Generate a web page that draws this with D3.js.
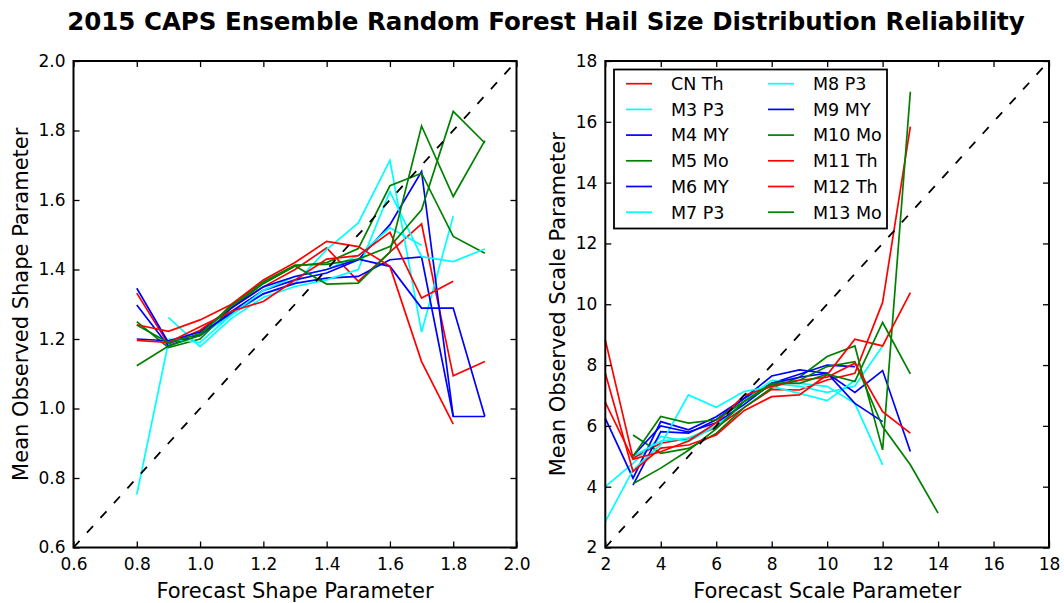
<!DOCTYPE html>
<html>
<head>
<meta charset="utf-8">
<script src="https://cdn.jsdelivr.net/npm/d3@7"></script>
<style>
  html, body { margin: 0; padding: 0; background: #fff; }
  svg { display: block; font-family: "DejaVu Sans", sans-serif; }
</style>
</head>
<body>
<svg id="chart" width="1064" height="603"></svg>
<script>
// Ensemble members, in legend order
const members = ["CN Th", "M3 P3", "M4 MY", "M5 Mo", "M6 MY", "M7 P3",
                 "M8 P3", "M9 MY", "M10 Mo", "M11 Th", "M12 Th", "M13 Mo"];
const memberColors = ["#ff0000", "#00ffff", "#0000ff", "#008000", "#0000ff", "#00ffff",
                      "#00ffff", "#0000ff", "#008000", "#ff0000", "#ff0000", "#008000"];

// Forecast shape parameter bins (left panel)
const shapeBins = [0.8, 0.9, 1.0, 1.1, 1.2, 1.3, 1.4, 1.5, 1.6, 1.7, 1.8, 1.9];
// Mean observed shape parameter per member
const shapeCNTh  = [1.332, 1.185, 1.225, 1.29, 1.35, 1.40, 1.462, 1.366, 1.45, 1.531, 1.094, 1.135];
const shapeM3P3  = [0.752, 1.19, 1.21, 1.27, 1.33, 1.36, 1.457, 1.534, 1.714, 1.22, 1.553, null];
const shapeM4MY  = [1.346, 1.19, 1.21, 1.28, 1.34, 1.37, 1.39, 1.428, 1.529, 1.682, 0.977, 0.977];
const shapeM5Mo  = [1.250, 1.175, 1.20, 1.29, 1.36, 1.41, 1.42, 1.46, 1.641, 1.677, 1.495, 1.447];
const shapeM6MY  = [1.298, 1.18, 1.215, 1.275, 1.33, 1.36, 1.375, 1.38, 1.428, 1.436, 0.977, null];
const shapeM7P3  = [null, 1.262, 1.178, 1.26, 1.32, 1.351, 1.37, 1.40, 1.624, 1.437, 1.423, 1.459];
const shapeM8P3  = [null, 1.20, 1.19, 1.27, 1.34, 1.38, 1.40, 1.44, 1.52, 1.47, null, null];
const shapeM9MY  = [1.200, 1.195, 1.22, 1.29, 1.35, 1.38, 1.40, 1.43, 1.409, 1.289, 1.289, 0.977];
const shapeM10Mo = [1.123, 1.18, 1.21, 1.30, 1.365, 1.413, 1.415, 1.43, 1.466, 1.572, 1.855, 1.764];
const shapeM11Th = [1.241, 1.222, 1.255, 1.30, 1.37, 1.42, 1.481, 1.466, 1.409, 1.135, 0.955, null];
const shapeM12Th = [1.196, 1.19, 1.235, 1.28, 1.308, 1.37, 1.43, 1.44, 1.507, 1.318, 1.366, null];
const shapeM13Mo = [1.24, 1.19, 1.215, 1.295, 1.36, 1.41, 1.358, 1.361, 1.45, 1.813, 1.61, 1.771];

// Forecast scale parameter bins (right panel)
const scaleBins = [2, 3, 4, 5, 6, 7, 8, 9, 10, 11, 12, 13, 14];
// Mean observed scale parameter per member
const scaleCNTh  = [8.83, 4.94, 5.43, 5.59, 5.95, 6.6, 7.2, 7.18, 7.51, 7.73, 10.06, 15.84, null];
const scaleM3P3  = [4.0, 4.77, 5.65, 5.48, 6.0, 6.7, 7.4, 7.3, 7.1, 7.31, 8.63, null, null];
const scaleM4MY  = [6.25, 4.28, 6.14, 5.87, 6.3, 6.9, 7.64, 7.84, 7.73, 7.1, 7.82, 5.16, null];
const scaleM5Mo  = [null, 5.70, 5.10, 5.26, 5.75, 6.6, 7.25, 7.6, 8.28, 8.63, 5.21, 16.99, null];
const scaleM6MY  = [null, 4.05, 5.81, 5.76, 6.2, 6.9, 7.4, 7.7, 8.0, 7.95, null, null, null];
const scaleM7P3  = [2.85, 4.55, 5.38, 7.02, 6.61, 7.13, 7.3, 7.07, 6.83, 7.5, null, null, null];
const scaleM8P3  = [null, 5.0, 5.5, 5.6, 6.0, 6.8, 7.5, 7.4, 7.3, 6.74, 4.72, null, null];
const scaleM9MY  = [null, 5.01, 6.0, 5.8, 6.1, 6.7, 7.4, 7.6, 7.73, 6.74, 6.14, null, null];
const scaleM10Mo = [null, 4.10, 4.61, 5.2, 5.9, 6.8, 7.35, 7.5, 7.95, 8.11, 5.98, 4.72, 3.13];
const scaleM11Th = [7.73, 4.50, 5.27, 5.37, 5.70, 6.5, 6.96, 7.02, 7.68, 8.85, 8.63, 10.38, null];
const scaleM12Th = [6.77, 4.90, 5.15, 5.5, 6.1, 7.0, 7.3, 7.5, 7.6, 8.06, 6.47, 5.76, null];
const scaleM13Mo = [null, 5.0, 6.31, 6.09, 6.20, 6.8, 7.4, 7.4, 7.7, 7.46, 9.40, 7.71, null];

// Axis ticks
const shapeTicks = [0.6, 0.8, 1.0, 1.2, 1.4, 1.6, 1.8, 2.0];
const scaleTicks = [2, 4, 6, 8, 10, 12, 14, 16, 18];

const shapeSeries = [shapeCNTh, shapeM3P3, shapeM4MY, shapeM5Mo, shapeM6MY, shapeM7P3,
                     shapeM8P3, shapeM9MY, shapeM10Mo, shapeM11Th, shapeM12Th, shapeM13Mo];
const scaleSeries = [scaleCNTh, scaleM3P3, scaleM4MY, scaleM5Mo, scaleM6MY, scaleM7P3,
                     scaleM8P3, scaleM9MY, scaleM10Mo, scaleM11Th, scaleM12Th, scaleM13Mo];

const svg = d3.select("#chart");

const plotTop = 61, plotBottom = 547.5;

function drawPanel(opts) {
  const { x, y, bins, series, ticks, fmt, xLabel, yLabel, yLabelX } = opts;
  const g = svg.append("g");
  const [x0, x1] = x.range();
  const [y0, y1] = y.range();

  // data lines
  series.forEach((vals, i) => {
    const pts = bins.map((b, j) => [b, vals[j]]);
    const line = d3.line()
      .defined(d => d[1] != null)
      .x(d => x(d[0]))
      .y(d => y(d[1]));
    g.append("path")
      .datum(pts)
      .attr("d", line)
      .attr("fill", "none")
      .attr("stroke", memberColors[i])
      .attr("stroke-width", 1.7)
      .attr("stroke-linejoin", "miter");
  });

  // one-to-one reference line
  const dom = x.domain();
  g.append("path")
    .datum([dom[0], dom[1]])
    .attr("d", d3.line().x(d => x(d)).y(d => y(d)))
    .attr("fill", "none")
    .attr("stroke", "#000")
    .attr("stroke-width", 1.8)
    .attr("stroke-dasharray", "9,11");

  // axes with inward ticks on all four sides
  const tickStyle = sel => {
    sel.select(".domain").remove();
    sel.selectAll(".tick line").attr("stroke", "#000").attr("stroke-width", 1.3);
    sel.selectAll(".tick text").attr("fill", "#000").style("font-size", "17px")
      .style("font-family", "DejaVu Sans, sans-serif");
  };
  g.append("g").attr("transform", `translate(0,${y0})`)
    .call(d3.axisBottom(x).tickValues(ticks).tickFormat(fmt).tickSizeInner(-6).tickSizeOuter(0).tickPadding(10))
    .call(tickStyle);
  g.append("g").attr("transform", `translate(0,${y1})`)
    .call(d3.axisTop(x).tickValues(ticks).tickFormat("").tickSizeInner(-6).tickSizeOuter(0))
    .call(tickStyle);
  g.append("g").attr("transform", `translate(${x0},0)`)
    .call(d3.axisLeft(y).tickValues(ticks).tickFormat(fmt).tickSizeInner(-6).tickSizeOuter(0).tickPadding(8))
    .call(tickStyle);
  g.append("g").attr("transform", `translate(${x1},0)`)
    .call(d3.axisRight(y).tickValues(ticks).tickFormat("").tickSizeInner(-6).tickSizeOuter(0))
    .call(tickStyle);

  // frame
  g.append("rect")
    .attr("x", x0).attr("y", y1)
    .attr("width", x1 - x0).attr("height", y0 - y1)
    .attr("fill", "none").attr("stroke", "#000").attr("stroke-width", 2);

  // axis titles
  g.append("text")
    .attr("x", (x0 + x1) / 2).attr("y", 598)
    .attr("text-anchor", "middle")
    .style("font-size", "21px")
    .text(xLabel);
  g.append("text")
    .attr("transform", `translate(${yLabelX},${(y0 + y1) / 2}) rotate(-90)`)
    .attr("dy", "0.36em")
    .attr("text-anchor", "middle")
    .style("font-size", "21px")
    .text(yLabel);
  return g;
}

const shapeX = d3.scaleLinear().domain([0.6, 2.0]).range([73.5, 516.5]);
const shapeY = d3.scaleLinear().domain([0.6, 2.0]).range([plotBottom, plotTop]);
const scaleX = d3.scaleLinear().domain([2, 18]).range([605.3, 1049]);
const scaleY = d3.scaleLinear().domain([2, 18]).range([plotBottom, plotTop]);

drawPanel({
  x: shapeX, y: shapeY, bins: shapeBins, series: shapeSeries, ticks: shapeTicks,
  fmt: d3.format(".1f"), xLabel: "Forecast Shape Parameter",
  yLabel: "Mean Observed Shape Parameter", yLabelX: 20
});
drawPanel({
  x: scaleX, y: scaleY, bins: scaleBins, series: scaleSeries, ticks: scaleTicks,
  fmt: d3.format("d"), xLabel: "Forecast Scale Parameter",
  yLabel: "Mean Observed Scale Parameter", yLabelX: 557
});

// legend: two columns of six
const legend = svg.append("g");
legend.append("rect")
  .attr("x", 614).attr("y", 69.5).attr("width", 273).attr("height", 159)
  .attr("fill", "#fff").attr("stroke", "#000").attr("stroke-width", 1.8);
members.forEach((name, i) => {
  const col = Math.floor(i / 6), row = i % 6;
  const lx = 626 + col * 142;
  const ly = 83.7 + row * 25.7;
  legend.append("line")
    .attr("x1", lx).attr("x2", lx + 26).attr("y1", ly).attr("y2", ly)
    .attr("stroke", memberColors[i]).attr("stroke-width", 1.7);
  legend.append("text")
    .attr("x", lx + 45).attr("y", ly).attr("dy", "0.36em")
    .style("font-size", "17.5px")
    .text(name);
});

// figure title
svg.append("text")
  .attr("x", 546).attr("y", 30)
  .attr("text-anchor", "middle")
  .style("font-size", "24.5px").style("font-weight", "bold")
  .text("2015 CAPS Ensemble Random Forest Hail Size Distribution Reliability");
</script>
</body>
</html>
